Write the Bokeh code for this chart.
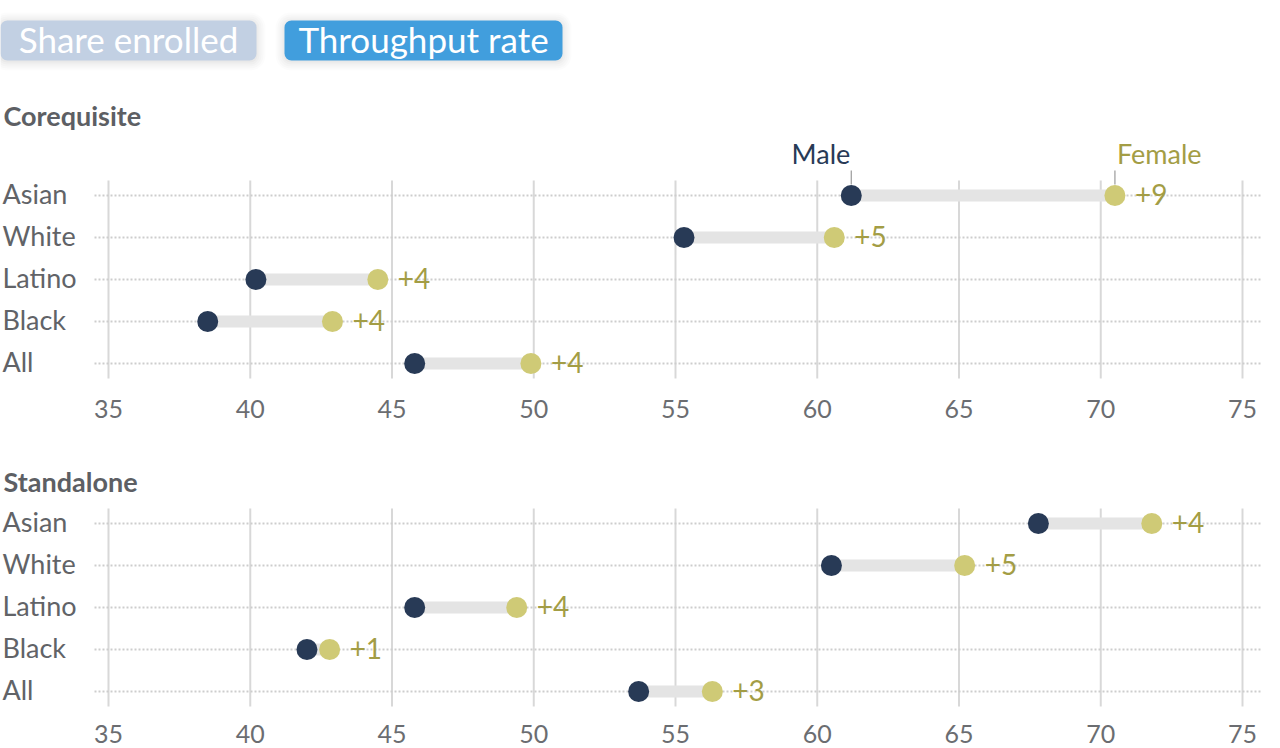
from bokeh.plotting import figure
from bokeh.models import Range1d, BoxAnnotation, ColumnDataSource
from bokeh.core.properties import value
from bokeh.embed import file_html
from bokeh.resources import INLINE

# ---- data -------------------------------------------------------------
GROUPS = ["Asian", "White", "Latino", "Black", "All"]
PANELS = ["Corequisite", "Standalone"]
CO_MALE = [61.2, 55.3, 40.2, 38.5, 45.8]
CO_FEMALE = [70.5, 60.6, 44.5, 42.9, 49.9]
ST_MALE = [67.8, 60.5, 45.8, 42.0, 53.7]
ST_FEMALE = [71.8, 65.2, 49.4, 42.8, 56.3]
TICKS = [35, 40, 45, 50, 55, 60, 65, 70, 75]
BUTTONS = ["Share enrolled", "Throughput rate"]

# ---- styling ----------------------------------------------------------
W, H = 1280, 748
FONT = value("Lato")
MALE_C = "#283a56"
FEMALE_C = "#cfca76"
FEMALE_TXT = "#a39d45"
LABEL_C = "#616367"
TITLE_C = "#5d5f64"
GRID_C = "#d8d8d8"
DOT_LINE_C = "#cdcdcd"
BAR_C = "#e4e4e4"

# horizontal scale: value 35 sits 108px from the left, 75 at 1242px
PX_PER_UNIT = (1242 - 108) / 40.0
X0 = 35 - 108 / PX_PER_UNIT
X1 = X0 + W / PX_PER_UNIT


def xd(px):
    """screen x (px from left) -> data x"""
    return X0 + px / PX_PER_UNIT


ROW_GAP = 42
PANEL_TITLE_Y = [117, 483]
PANEL_ROW0_Y = [195, 523]
TICK_LABEL_GAP = [47, 44]   # distance from last row to the tick labels
TXT_DY = 2  # nudge text up so glyphs sit centred on the rows

p = figure(width=W, height=H, x_range=Range1d(X0, X1), y_range=Range1d(H, 0),
           output_backend="svg", toolbar_location=None,
           x_axis_location=None, y_axis_location=None,
           title=None, min_border=0)
p.outline_line_color = None
p.background_fill_color = "white"
p.border_fill_color = "white"
p.xgrid.visible = False
p.ygrid.visible = False

# ---- toggle buttons ---------------------------------------------------
btn_spans = [(0, 256), (284, 562)]
btn_fill = ["#c2d0e3", "#419edd"]
for (l, r), fill, label in zip(btn_spans, btn_fill, BUTTONS):
    for grow, alpha in [(9, 0.012), (7, 0.014), (5, 0.016), (3, 0.02), (1, 0.025)]:
        p.add_layout(BoxAnnotation(left=xd(l - grow), right=xd(r + grow),
                                   top=20 - grow + 1, bottom=60 + grow + 1,
                                   fill_color="#000000", fill_alpha=alpha,
                                   line_color=None, border_radius=6 + grow,
                                   level="underlay"))
    p.add_layout(BoxAnnotation(left=xd(l), right=xd(r), top=20, bottom=60,
                               fill_color=fill, fill_alpha=1.0,
                               line_color=None, border_radius=7,
                               level="underlay"))
    p.text(x=[xd((l + r) / 2)], y=[40], text=[label], text_font=FONT,
           text_font_size="35px", text_color="white", y_offset=-TXT_DY,
           text_align="center", text_baseline="middle")

# ---- panels -----------------------------------------------------------
panel_data = [(CO_MALE, CO_FEMALE), (ST_MALE, ST_FEMALE)]
for k, (title, (male, female)) in enumerate(zip(PANELS, panel_data)):
    ys = [PANEL_ROW0_Y[k] + ROW_GAP * i for i in range(len(GROUPS))]
    y_top, y_bot = ys[0] - 15, ys[-1] + 15

    # vertical grid at each tick
    p.segment(x0=TICKS, x1=TICKS, y0=[y_top] * len(TICKS), y1=[y_bot] * len(TICKS),
              line_color=GRID_C, line_width=2)
    # dotted row guides
    p.segment(x0=[xd(94)] * len(ys), x1=[xd(1262)] * len(ys), y0=ys, y1=ys,
              line_color=DOT_LINE_C, line_width=2, line_dash="2 2")

    # panel title and row labels
    p.text(x=[xd(3)], y=[PANEL_TITLE_Y[k]], text=[title], text_font=FONT,
           text_font_size="27px", text_font_style="bold", text_color=TITLE_C,
           y_offset=-TXT_DY, text_align="left", text_baseline="middle")
    p.text(x=[xd(2)] * len(ys), y=ys, text=GROUPS, text_font=FONT,
           text_font_size="27px", text_color=LABEL_C, y_offset=-TXT_DY,
           text_align="left", text_baseline="middle")

    # tick labels
    p.text(x=TICKS, y=[ys[-1] + TICK_LABEL_GAP[k]] * len(TICKS),
           text=[str(t) for t in TICKS],
           text_font=FONT, text_font_size="25px", text_color="#6b6d71",
           y_offset=-TXT_DY, text_align="center", text_baseline="middle")

    src = ColumnDataSource(dict(
        y=ys, male=male, female=female,
        gap=["+%d" % round(f - m) for m, f in zip(male, female)],
    ))
    p.segment(x0="male", x1="female", y0="y", y1="y", source=src,
              line_color=BAR_C, line_width=12)
    p.scatter(x="male", y="y", source=src, size=21, fill_color=MALE_C,
              line_color=None)
    p.scatter(x="female", y="y", source=src, size=21, fill_color=FEMALE_C,
              line_color=None)
    p.text(x="female", y="y", text="gap", source=src, x_offset=20,
           y_offset=-TXT_DY + 1,
           text_font=FONT, text_font_size="28px", text_color=FEMALE_TXT,
           text_align="left", text_baseline="middle")

    # series key on the first row of the first panel
    if k == 0:
        m0, f0 = male[0], female[0]
        p.segment(x0=[m0, f0], x1=[m0, f0], y0=[170, 170], y1=[184, 184],
                  line_color="#9a9a9a", line_width=1.2)
        p.text(x=[m0], y=[155], text=["Male"], x_offset=-1, y_offset=-TXT_DY,
               text_font=FONT, text_font_size="27px", text_color=MALE_C,
               text_align="right", text_baseline="middle")
        p.text(x=[f0], y=[155], text=["Female"], x_offset=2, y_offset=-TXT_DY,
               text_font=FONT, text_font_size="27px", text_color=FEMALE_TXT,
               text_align="left", text_baseline="middle")

open("out.html", "w").write(file_html(p, INLINE))
